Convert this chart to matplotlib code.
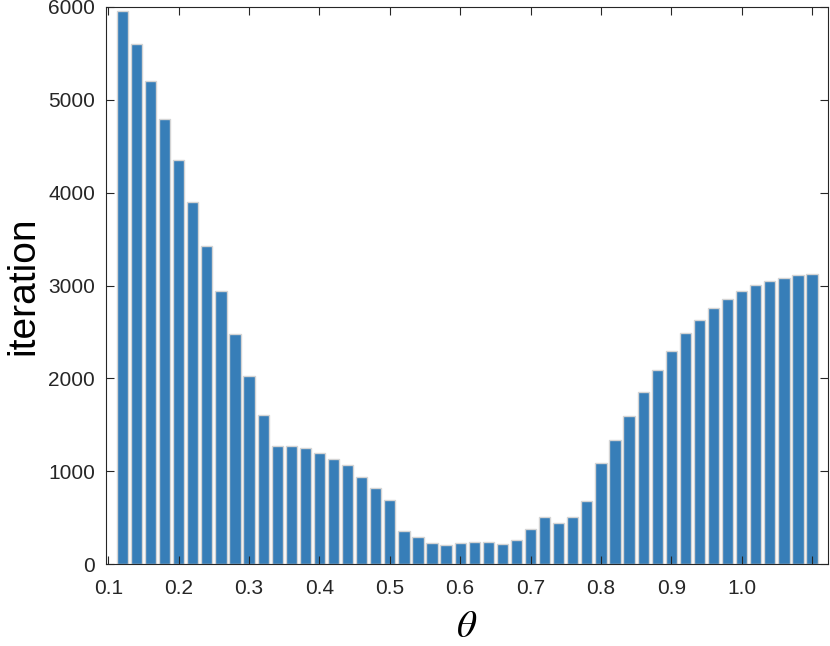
import numpy as np
import matplotlib
matplotlib.use("Agg")
import matplotlib.pyplot as plt

plt.rcParams['font.family'] = ['Liberation Sans', 'DejaVu Sans']
plt.rcParams['mathtext.fontset'] = 'stix'

# theta values (bar centres) and iteration counts
theta = [0.12, 0.14, 0.16, 0.18, 0.20, 0.22, 0.24, 0.26, 0.28, 0.30,
         0.32, 0.34, 0.36, 0.38, 0.40, 0.42, 0.44, 0.46, 0.48, 0.50,
         0.52, 0.54, 0.56, 0.58, 0.60, 0.62, 0.64, 0.66, 0.68, 0.70,
         0.72, 0.74, 0.76, 0.78, 0.80, 0.82, 0.84, 0.86, 0.88, 0.90,
         0.92, 0.94, 0.96, 0.98, 1.00, 1.02, 1.04, 1.06, 1.08, 1.10]
iterations = [5952, 5603, 5208, 4795, 4353, 3897, 3422, 2945, 2474, 2022,
              1601, 1267, 1267, 1246, 1196, 1135, 1067, 933, 819, 690,
              351, 294, 226, 208, 224, 241, 236, 215, 259, 380,
              510, 445, 510, 679, 1092, 1336, 1595, 1853, 2091, 2298,
              2485, 2629, 2754, 2859, 2942, 3002, 3050, 3082, 3114, 3128]

xticks = [0.1, 0.2, 0.3, 0.4, 0.5, 0.6, 0.7, 0.8, 0.9, 1.0, 1.1]
xticklabels = ['0.1', '0.2', '0.3', '0.4', '0.5', '0.6', '0.7', '0.8', '0.9', '1.0', '']
yticks = [0, 1000, 2000, 3000, 4000, 5000, 6000]

fig = plt.figure(figsize=(8.3, 6.46), dpi=100)
ax = fig.add_axes([106/830, 1 - 564/646, (828-106)/830, (564-7)/646])

ax.bar(theta, iterations, width=0.8*0.02, color='#377EB8',
       edgecolor='#d4d4d4', linewidth=1.0)

ax.set_xlim(0.0967, 1.1227)
ax.set_ylim(0, 6000)
ax.set_xticks(xticks)
ax.set_xticklabels(xticklabels)
ax.set_yticks(yticks)

axcol = '#262626'
for s in ax.spines.values():
    s.set_color(axcol)
    s.set_linewidth(0.8)
ax.tick_params(direction='in', top=True, right=True, length=6, width=0.8,
               color=axcol, labelcolor=axcol, labelsize=15)
ax.tick_params(axis='y', pad=8)
ax.tick_params(axis='x', pad=10.5)

ax.set_ylabel('iteration', fontsize=28, color='black', ha='center', va='center')
ax.yaxis.set_label_coords(-0.114, 0.499)
ax.set_xlabel(r'$\theta$', fontsize=28, color='black', ha='center', va='center')
ax.xaxis.set_label_coords(0.5, -0.114)

fig.savefig('out.png', dpi=100)
